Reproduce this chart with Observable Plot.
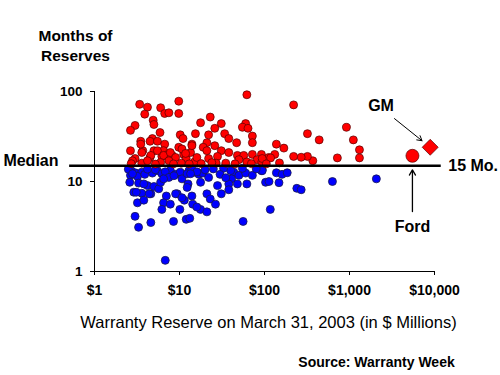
<!DOCTYPE html>
<html>
<head>
<meta charset="utf-8">
<script src="https://cdn.jsdelivr.net/npm/d3@7"></script>
<script src="https://cdn.jsdelivr.net/npm/@observablehq/plot@0.6"></script>
<style>
  html, body { margin: 0; padding: 0; background: #fff; }
  #chart svg { display: block; }
</style>
</head>
<body>
<div id="chart"></div>
<script>
// ---- Data (warranty reserve in $M, months of reserves) ----
const redPoints = [
  [3.4,72],[4.2,67],[6,66],[9.8,78],[3.9,56],[6.7,57],[7.5,58],[9.8,57],[4.9,48],[5,43],
  [3,42],[2.65,37],[5.9,35],[10.2,33],[11,30],[4.8,30],[4.5,28],[3.5,28],[5.5,28],[6.7,26],
  [9.8,24],[2.65,22],[3.7,22],[5,22],[6.5,22],[7.3,20],[6.2,19],[8.2,19.5],[3,18],[4.5,18.5],
  [7.8,18],[11.2,20],[3.6,16],[6,16.3],[12,18],
  [62,92],[23,52],[17.7,45],[31,44],[60,44],[55,40],[64,39],[26,39],[15.4,34],[22,33],
  [34,34],[38,30],[72,32],[72,27],[47,27],[14,26],[21,27],[19,24],[26,25],[31,22],
  [13.5,21],[21,22],[38,21],[48,19.5],[57,19.5],[72,20],[92,20],[112,18.5],[28,19],[50,17.5],
  [82,17.5],[22,18],[15,16.5],[35,16],[62,16.5],[93,16.5],[27,16],
  [220,71],[320,34],[440,29],[920,40],[1110,29],[1310,22.5],[1310,18.3],[720,18.3],[370,17],[320,19],
  [270,18.6],[220,19],[138,26],[169,23.5],[132,20],[118,18.3],[94,18],
  [3.5,26],[3.6,21],[4.6,19.5],[5.5,22],[6.5,19.5],[7.8,21],[9,18.5],[10.7,23],[11.8,20.5],[14,25],
  [16,18.5],[7.5,17],[4.2,17],[2.8,17],
  [2.7,15.8],[5.2,15.6],[8.5,15.7],[10.5,16],[13,15.7],[18,15.8],[24,16.2],[45,15.7],[70,15.8],[105,15.7],[150,16.1]
];
const bluePoints = [
  [2.7,13.2],[3,12.5],[3.6,12.7],[2.65,11.7],[3.2,11.4],[3.9,12],[4.8,12.4],[5.5,13.2],[6.2,12.2],[7.8,13.3],
  [9,12],[10.2,12.7],[10.7,10.7],[2.6,9.8],[3.3,9.6],[4.2,9],[5,8.8],[5.7,8.3],[2.9,7.6],[3.6,7.4],
  [4.6,7.3],[3.2,5.8],[3.8,6.2],[7,6.9],[9.4,7.3],[6.5,5.8],[7.8,5.6],[6.2,4.9],[11.4,6.2],[10.1,4.9],
  [3,4.1],[4.6,3.5],[3.3,3.1],[8.5,3.6],[12,3.8],[6.8,1.33],
  [12.9,13.2],[15,12.7],[16.9,12],[18.8,12.4],[17.7,9.8],[22,11.1],[12.6,9.4],[43.5,12.7],[50,11.7],[41,10.7],
  [48,9.4],[60,12.4],[72,11.7],[92,13.2],[62,9.4],[38,9.4],[103,9.8],[28,9],[31,7.3],[38,8.1],
  [21,7.3],[23,6.4],[26.5,5.6],[14.3,5.6],[17.7,4.9],[16,5.2],[21,4.6],[117,4.9],[13.2,3.9],[56,3.6],
  [94,13.5],[138,12.5],[161,12],[185,12.5],[113,10],[148,9.7],[240,8.4],[270,8.1],[630,10],[2070,10.7],
  [2.5,13.7],[2.8,12.2],[4.2,13.7],[5.2,13.5],[6.8,12.8],[7.5,11.1],[8.6,11.6],[12.3,12.2],[14,13.7],[16,12.8],
  [3.1,7.6],[3.8,9.4],[4.4,7.3],[6,9.8],[6.5,10.7],[9,7.3],[10.7,6.6],[12.3,8.6],[14,6.9],
  [13.5,12.2],[40,13.2],[94,13.2],[25,13.8],[33,14],[30,12],[55,14],[80,13.8],[35,11],[20,13.5]
];
const ford = {name: "Ford", x: 5500, y: 19.3};
const gm = {name: "GM", x: 8900, y: 24};
const medianValue = 15;
const medianSpan = [0.51, 12000];
const medianLabel = "Median";
const medianTag = "15 Mo.";
const gmArrowStart = [3380, 50];
const fordArrowStart = [5500, 4.64];
const fordLabelAt = [5500, 3.1];
const gmLabelAt = [2350, 69];

const xDomain = [1, 10000];
const yDomain = [1, 100];
const xTicks = [1, 10, 100, 1000, 10000];
const xTickLabels = ["$1", "$10", "$100", "$1,000", "$10,000"];
const yTicks = [1, 10, 100];
const yTickLabels = ["1", "10", "100"];

const yTitle = "Months of\nReserves";
const xTitle = "Warranty Reserve on March 31, 2003 (in $ Millions)";
const sourceText = "Source: Warranty Week";

const FONT = "'Liberation Sans', Arial, Helvetica, sans-serif";

const chart = Plot.plot({
  width: 500,
  height: 375,
  marginLeft: 94,
  marginRight: 66,
  marginTop: 91,
  marginBottom: 104,
  style: {fontFamily: FONT, background: "#fff", color: "#000", overflow: "visible"},
  x: {type: "log", domain: xDomain, label: null},
  y: {type: "log", domain: yDomain, label: null},
  marks: [
    // axes
    Plot.axisX(xTicks, {
      tickFormat: d => xTickLabels[xTicks.indexOf(d)],
      tickSize: 4, tickPadding: 10, fontSize: 14, fontWeight: "bold", label: null
    }),
    Plot.axisY(yTicks, {
      tickFormat: d => yTickLabels[yTicks.indexOf(d)],
      tickSize: 4, tickPadding: 8, fontSize: 13.5, fontWeight: "bold", label: null
    }),
    Plot.ruleX([xDomain[0]], {y1: yDomain[0], y2: yDomain[1], stroke: "#000", strokeWidth: 1}),
    Plot.ruleY([yDomain[0]], {x1: xDomain[0], x2: xDomain[1], stroke: "#000", strokeWidth: 1}),

    // points
    Plot.dot(bluePoints, {x: d => d[0], y: d => d[1], r: 4, fill: "#0000ff", stroke: "#1a1a4d", strokeWidth: 0.8}),
    Plot.dot(redPoints, {x: d => d[0], y: d => d[1], r: 4, fill: "#ff0000", stroke: "#550000", strokeWidth: 0.7}),

    // median line
    Plot.ruleY([medianValue], {x1: medianSpan[0], x2: medianSpan[1], stroke: "#000", strokeWidth: 2.5}),
    Plot.text([medianLabel], {x: xDomain[0], y: medianValue, dx: -36, dy: -5, textAnchor: "end",
      fontSize: 16, fontWeight: "bold", fill: "#000"}),
    Plot.text([medianTag], {x: medianSpan[1], y: medianValue, dx: 7, textAnchor: "start",
      fontSize: 16, fontWeight: "bold", fill: "#000"}),

    // Ford & GM
    Plot.dot([ford], {x: "x", y: "y", r: 6.5, fill: "#ff0000", stroke: "#550000", strokeWidth: 0.7}),
    Plot.dot([gm], {x: "x", y: "y", r: 7.2, symbol: "diamond2", fill: "#ff0000", stroke: "#550000", strokeWidth: 0.7}),
    Plot.arrow([gm], {x1: () => gmArrowStart[0], y1: () => gmArrowStart[1], x2: "x", y2: "y",
      insetEnd: 10.5, headLength: 8, stroke: "#000", strokeWidth: 1}),
    Plot.arrow([ford], {x1: () => fordArrowStart[0], y1: () => fordArrowStart[1], x2: "x", y2: "y",
      insetEnd: 14, headLength: 7, stroke: "#000", strokeWidth: 1.3}),
    Plot.text([gm], {x: () => gmLabelAt[0], y: () => gmLabelAt[1], text: "name",
      fontSize: 16, fontWeight: "bold", fill: "#000"}),
    Plot.text([ford], {x: () => fordLabelAt[0], y: () => fordLabelAt[1], text: "name",
      fontSize: 16, fontWeight: "bold", fill: "#000"}),

    // titles
    Plot.text([yTitle], {frameAnchor: "top-left", dx: -19, dy: -65, lineAnchor: "top",
      textAnchor: "middle", fontSize: 15.5, fontWeight: "bold", lineHeight: 1.3, fill: "#000"}),
    Plot.text([xTitle], {frameAnchor: "bottom", dx: 4, dy: 51, lineAnchor: "middle",
      fontSize: 16.5, fill: "#000"}),
    Plot.text([sourceText], {frameAnchor: "bottom", dx: 112, dy: 91, lineAnchor: "middle",
      fontSize: 14, fontWeight: "bold", fill: "#000"})
  ]
});
document.getElementById("chart").appendChild(chart);
</script>
</body>
</html>
